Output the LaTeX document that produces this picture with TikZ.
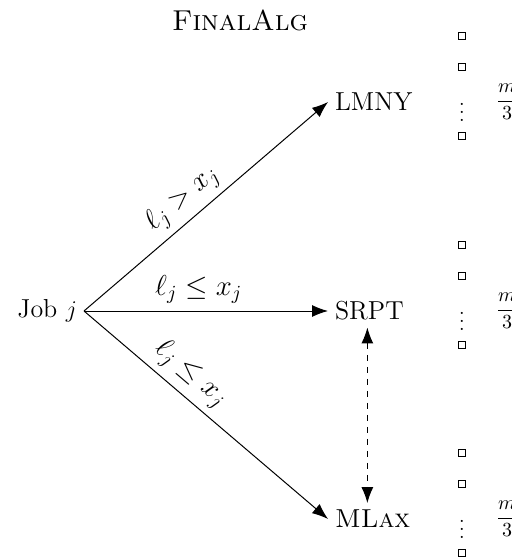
\documentclass[tikz,border=0pt]{standalone}
\usepackage{amsmath}
\usetikzlibrary{arrows.meta}
\newcommand{\midfont}{\fontsize{13}{15}\selectfont}
\begin{document}
\begin{tikzpicture}[x=0.5pt,y=-0.5pt,
  tip/.tip={Latex[length=8pt,width=6pt]},
  arr/.style={-tip,line width=0.5pt},
  alg/.style={anchor=west,font=\midfont},
  mach/.style={draw,line width=0.45pt,minimum size=3.4pt,inner sep=0pt},
  lbl/.style={font=\Large}]
\useasboundingbox (0,0) rectangle (512,560);
\node (title) at (240,20) {\Large\textsc{FinalAlg}};
\node[anchor=east,font=\midfont] (job) at (84,311) {Job $j$};
\node[alg] (lmny) at (328,102) {LMNY};
\node[alg] (srpt) at (328,311) {SRPT};
\node[alg] (mlax) at (328,519) {\textsc{MLax}};
\draw[arr] (job.east) -- node[pos=0.46,sloped,above,lbl] {$\ell_j > x_j$} (lmny.west);
\draw[arr] (job.east) -- node[pos=0.47,above,lbl] {$\ell_j \le x_j$} (srpt.west);
\draw[arr] (job.east) -- node[pos=0.38,sloped,above,lbl] {$\ell_j \le x_j$} (mlax.west);
\draw[tip-tip,dashed,line width=0.5pt] ([xshift=-1pt]srpt.south) -- ([xshift=-1pt]srpt.south |- mlax.north);
\foreach \g/\yc in {a/102,b/311,c/519}{
  \node[mach] (\g1) at (462,\yc-66) {};
  \node[mach] (\g2) at (462,\yc-35) {};
  \node (\g d) at (462,\yc+4) {$\vdots$};
  \node[mach] (\g3) at (462,\yc+34) {};
  \node (\g f) at (507,\yc) {$\dfrac{m}{3}$};
}
\end{tikzpicture}
\end{document}
